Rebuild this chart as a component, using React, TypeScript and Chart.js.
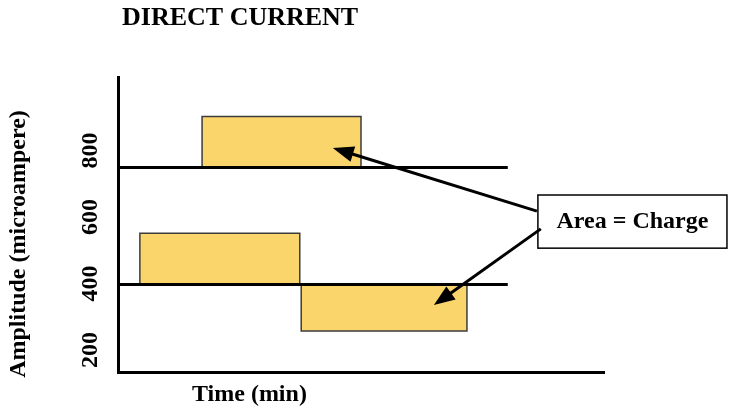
import React, { useEffect, useRef } from "react";
import { Chart, registerables } from "chart.js";

Chart.register(...registerables);

// ---- text ----
const chartTitle = "DIRECT CURRENT";
const xAxisTitle = "Time (min)";
const yAxisTitle = "Amplitude (microampere)";
const annotationText = "Area = Charge";

// ---- axis ticks (microampere) ----
const yTickValues = [200, 400, 600, 800];

// ---- baselines (microampere) ----
const baselineLevels = [800, 400];
const baselineStartX = 0;
const baselineEndX = 80.2;

// ---- pulses: [start, end] in time, [base, level] in microampere ----
const upperPulseX = [17.3, 50.0];
const upperPulseY = [800, 975];
const lowerPulseAX = [4.5, 37.4];
const lowerPulseAY = [400, 575];
const lowerPulseBX = [37.7, 71.8];
const lowerPulseBY = [400, 240];

// ---- annotation (data coordinates) ----
const boxX = [86.4, 125.3];
const boxY = [706, 524];
const arrowTailsX = [86.2, 87.0];
const arrowTailsY = [651, 590];
const arrowTipsX = [44.2, 65.0];
const arrowTipsY = [867, 329];

const FILL = "#FAD56B";
const EDGE = "#3C3C3C";
const SERIF = "'Liberation Serif', 'Times New Roman', serif";

function pulse(xs: number[], ys: number[]) {
  return {
    type: "line" as const,
    data: [
      { x: xs[0], y: ys[0] },
      { x: xs[0], y: ys[1] },
      { x: xs[1], y: ys[1] },
      { x: xs[1], y: ys[0] },
    ],
    borderColor: EDGE,
    borderWidth: 1.5,
    backgroundColor: FILL,
    fill: { value: ys[0] },
    pointRadius: 0,
    tension: 0,
    order: 2,
  };
}

function baseline(level: number) {
  return {
    type: "line" as const,
    data: [
      { x: baselineStartX, y: level },
      { x: baselineEndX, y: level },
    ],
    borderColor: "#000000",
    borderWidth: 3,
    fill: false,
    pointRadius: 0,
    order: 1,
  };
}

const overlay = {
  id: "overlay",
  afterDraw(chart: any) {
    const ctx = chart.ctx as CanvasRenderingContext2D;
    const ca = chart.chartArea;
    const xs = chart.scales.x;
    const ys = chart.scales.y;
    const yl = chart.scales.yLabel;
    ctx.save();
    ctx.fillStyle = "#000";
    ctx.textBaseline = "alphabetic";

    // title
    ctx.font = `bold 26px ${SERIF}`;
    ctx.textAlign = "left";
    ctx.fillText(chartTitle, ca.left + 4, 25);

    // x axis title
    ctx.font = `bold 24px ${SERIF}`;
    ctx.fillText(xAxisTitle, ca.left + 74, ca.bottom + 29);

    // y axis title
    ctx.save();
    ctx.translate(25, ca.top + 167);
    ctx.rotate(-Math.PI / 2);
    ctx.textAlign = "center";
    ctx.fillText(yAxisTitle, 0, 0);
    ctx.restore();

    // tick labels (rotated)
    for (const v of yTickValues) {
      ctx.save();
      ctx.translate(ca.left - 21, yl.getPixelForValue(v));
      ctx.rotate(-Math.PI / 2);
      ctx.textAlign = "center";
      ctx.fillText(String(v), 0, 0);
      ctx.restore();
    }

    // annotation box
    const bx0 = xs.getPixelForValue(boxX[0]);
    const bx1 = xs.getPixelForValue(boxX[1]);
    const by0 = ys.getPixelForValue(boxY[0]);
    const by1 = ys.getPixelForValue(boxY[1]);
    ctx.fillStyle = "#fff";
    ctx.fillRect(bx0, by0, bx1 - bx0, by1 - by0);
    ctx.strokeStyle = "#000";
    ctx.lineWidth = 1.5;
    ctx.strokeRect(bx0, by0, bx1 - bx0, by1 - by0);
    ctx.fillStyle = "#000";
    ctx.textAlign = "center";
    ctx.font = `bold 24px ${SERIF}`;
    ctx.fillText(annotationText, (bx0 + bx1) / 2, by0 + 33);

    // arrows
    for (let i = 0; i < arrowTipsX.length; i++) {
      const tx = xs.getPixelForValue(arrowTailsX[i]);
      const ty = ys.getPixelForValue(arrowTailsY[i]);
      const hx = xs.getPixelForValue(arrowTipsX[i]);
      const hy = ys.getPixelForValue(arrowTipsY[i]);
      const ang = Math.atan2(hy - ty, hx - tx);
      const headLen = 21;
      const headHalf = 8;
      const bxp = hx - headLen * Math.cos(ang);
      const byp = hy - headLen * Math.sin(ang);
      ctx.strokeStyle = "#000";
      ctx.lineWidth = 3;
      ctx.beginPath();
      ctx.moveTo(tx, ty);
      ctx.lineTo(bxp + 4 * Math.cos(ang), byp + 4 * Math.sin(ang));
      ctx.stroke();
      ctx.beginPath();
      ctx.moveTo(hx, hy);
      ctx.lineTo(bxp - headHalf * Math.sin(ang), byp + headHalf * Math.cos(ang));
      ctx.lineTo(bxp + headHalf * Math.sin(ang), byp - headHalf * Math.cos(ang));
      ctx.closePath();
      ctx.fill();
    }
    ctx.restore();
  },
};

export default function App() {
  const ref = useRef<HTMLCanvasElement | null>(null);

  useEffect(() => {
    if (!ref.current) return;
    const chart = new Chart(ref.current, {
      type: "line",
      data: {
        datasets: [
          ...baselineLevels.map((l) => baseline(l)),
          pulse(upperPulseX, upperPulseY),
          pulse(lowerPulseAX, lowerPulseAY),
          pulse(lowerPulseBX, lowerPulseBY),
        ] as any,
      },
      options: {
        responsive: false,
        animation: false,
        devicePixelRatio: 1,
        layout: { padding: { left: 118, top: 77, right: 125, bottom: 48 } },
        plugins: {
          legend: { display: false },
          title: { display: false },
          tooltip: { enabled: false },
        },
        scales: {
          x: {
            type: "linear",
            min: 0,
            max: 100,
            grid: { display: false, drawTicks: false },
            ticks: { display: false },
            border: { display: true, color: "#000", width: 3 },
          },
          y: {
            type: "linear",
            position: "left",
            min: 100,
            max: 1110,
            grid: { display: false, drawTicks: false },
            ticks: { display: false },
            border: { display: true, color: "#000", width: 3 },
          },
          yLabel: {
            type: "linear",
            position: "left",
            display: false,
            min: 134,
            max: 1021,
          },
        },
      },
      plugins: [overlay],
    });
    return () => chart.destroy();
  }, []);

  return (
    <div style={{ position: "absolute", left: 0, top: 0, width: 729, height: 420, background: "#fff" }}>
      <canvas ref={ref} width={729} height={420} style={{ width: 729, height: 420, display: "block" }} />
    </div>
  );
}
